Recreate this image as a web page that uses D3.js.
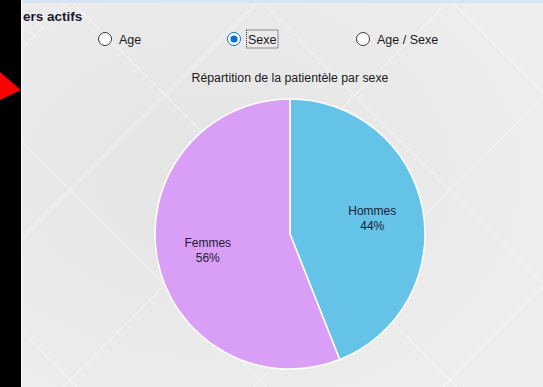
<!DOCTYPE html>
<html>
<head>
<meta charset="utf-8">
<script src="https://cdn.jsdelivr.net/npm/d3@7"></script>
<style>
  html, body { margin: 0; padding: 0; background: #000; }
  svg { display: block; }
</style>
</head>
<body>
<svg id="chart" width="543" height="387"></svg>
<script>
// Patient breakdown by sex
const categories = ["Hommes", "Femmes"];
const shares = [44, 56];
const sliceColors = ["#64c3e7", "#d99ef6"];
const chartTitle = "Répartition de la patientèle par sexe";
const groupLabel = "ers actifs";
const radioOptions = ["Age", "Sexe", "Age / Sexe"];
const selectedOption = "Sexe";

const W = 543, H = 387;
const svg = d3.select("#chart");
const defs = svg.append("defs");

// Quilted panel background
const grad = defs.append("radialGradient").attr("id", "panelShade")
  .attr("cx", "35%").attr("cy", "45%").attr("r", "75%");
grad.append("stop").attr("offset", "0%").attr("stop-color", "#e4e4e4");
grad.append("stop").attr("offset", "100%").attr("stop-color", "#eeeeee");

const panelX = 21;
svg.append("rect").attr("x", 0).attr("y", 0).attr("width", W).attr("height", H).attr("fill", "#000");
svg.append("rect").attr("x", panelX).attr("y", 0).attr("width", W - panelX).attr("height", H)
  .attr("fill", "url(#panelShade)");

// Diagonal quilting lines
const clip = defs.append("clipPath").attr("id", "panelClip");
clip.append("rect").attr("x", panelX).attr("y", 0).attr("width", W - panelX).attr("height", H);
const quilt = svg.append("g").attr("clip-path", "url(#panelClip)")
  .attr("stroke", "#ffffff").attr("stroke-opacity", 0.38).attr("stroke-width", 1.3);
const step = 190;
const offsets = d3.range(-4, 8).map(i => i * step + 70);
offsets.forEach(o => {
  quilt.append("line").attr("x1", o).attr("y1", 0).attr("x2", o + H).attr("y2", H);
  quilt.append("line").attr("x1", o).attr("y1", 0).attr("x2", o - H).attr("y2", H);
});

// Top border strip
svg.append("rect").attr("x", panelX).attr("y", 0).attr("width", W - panelX).attr("height", 3)
  .attr("fill", "#d6e5f3");
svg.append("rect").attr("x", panelX).attr("y", 3).attr("width", W - panelX).attr("height", 1)
  .attr("fill", "#f2e9e4");
svg.append("rect").attr("x", panelX).attr("y", 0).attr("width", 2).attr("height", H)
  .attr("fill", "#f4f4f4");

// Red pointer on the left edge
svg.append("path")
  .attr("d", d3.line()([[0, 72], [panelX, 90], [0, 100]]) + "Z")
  .attr("fill", "#ff0000");

const font = "'Liberation Sans', Arial, sans-serif";

// Group box caption
svg.append("text").attr("x", 23).attr("y", 21)
  .attr("font-family", font).attr("font-weight", "bold").attr("font-size", 13.5)
  .attr("fill", "#1b1b33").text(groupLabel);

// Radio buttons
const radioX = d3.scalePoint().domain(radioOptions).range([105, 363]);
const radioY = 39;
radioOptions.forEach(opt => {
  const x0 = radioX(opt);
  const g = svg.append("g");
  g.append("circle").attr("cx", x0).attr("cy", radioY).attr("r", 6.5)
    .attr("fill", "#ffffff").attr("stroke", opt === selectedOption ? "#0b6fcf" : "#3a3a3a")
    .attr("stroke-width", 1);
  if (opt === selectedOption) {
    g.append("circle").attr("cx", x0).attr("cy", radioY).attr("r", 3.6).attr("fill", "#0b6fcf");
  }
  const t = g.append("text").attr("x", x0 + 14).attr("y", radioY + 5)
    .attr("font-family", font).attr("font-size", 12.5).attr("fill", "#1a1a1a").text(opt);
  if (opt === selectedOption) {
    const bb = t.node().getBBox();
    g.append("rect").attr("x", bb.x - 1.5).attr("y", radioY - 9).attr("width", bb.width + 3).attr("height", 18)
      .attr("fill", "none").attr("stroke", "#333").attr("stroke-width", 1)
      .attr("stroke-dasharray", "1,1");
  }
});

// Chart title
const cx = 290, cy = 234, r = 135;
svg.append("text").attr("x", cx).attr("y", 82).attr("text-anchor", "middle")
  .attr("font-family", font).attr("font-size", 12.3).attr("fill", "#1a1a1a").text(chartTitle);

// Pie
const data = categories.map((c, i) => ({ name: c, value: shares[i], color: sliceColors[i] }));
const pie = d3.pie().value(d => d.value).sort(null);
const arc = d3.arc().innerRadius(0).outerRadius(r);
const labelArc = d3.arc().innerRadius(r * 0.62).outerRadius(r * 0.62);
const arcs = pie(data);

const pg = svg.append("g").attr("transform", `translate(${cx},${cy})`);
pg.selectAll("path.slice").data(arcs).join("path")
  .attr("class", "slice")
  .attr("d", arc)
  .attr("fill", d => d.data.color)
  .attr("stroke", "#ffffff").attr("stroke-width", 1.5);

const lbl = pg.selectAll("text.lbl").data(arcs).join("text")
  .attr("class", "lbl")
  .attr("transform", d => `translate(${labelArc.centroid(d)})`)
  .attr("text-anchor", "middle")
  .attr("font-family", font).attr("font-size", 12).attr("fill", "#1c1c38");
lbl.append("tspan").attr("x", 0).attr("y", -3).text(d => d.data.name);
lbl.append("tspan").attr("x", 0).attr("y", 12).text(d => d.data.value + "%");
</script>
</body>
</html>
